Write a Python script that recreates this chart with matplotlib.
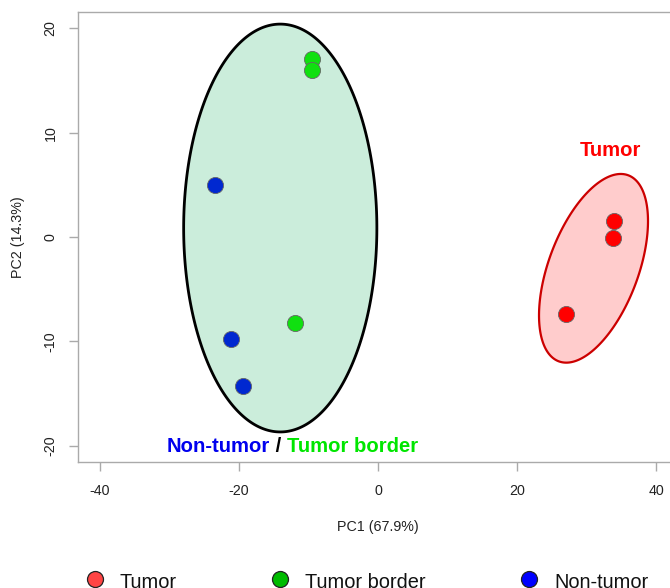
import numpy as np
import matplotlib
matplotlib.use("Agg")
import matplotlib.pyplot as plt
from matplotlib.lines import Line2D

plt.rcParams['font.family'] = ['Liberation Sans', 'DejaVu Sans']
plt.rcParams['axes.unicode_minus'] = False

# ---- data ----
groups = ["Tumor", "Tumor border", "Non-tumor"]
tumor_x = [33.9, 33.85, 27.0]
tumor_y = [1.5, -0.05, -7.4]
border_x = [-9.55, -9.55, -11.95]
border_y = [17.1, 16.0, -8.2]
nontumor_x = [-23.45, -21.15, -19.45]
nontumor_y = [4.95, -9.75, -14.25]

point_colors = ["#FF0000", "#10E010", "#0028D0"]
legend_colors = ["#FF4444", "#00BB00", "#0000FF"]

x_ticks = [-40, -20, 0, 20, 40]
y_ticks = [-20, -10, 0, 10, 20]
x_label = "PC1 (67.9%)"
y_label = "PC2 (14.3%)"

# ellipse shape parameters: center x, center y, x-radius, y-radius, phase (deg)
ell_green = (-14.07, 0.86, 13.9, 19.54, 90.0)
ell_red = (31.0, -3.0, 7.84, 9.04, 60.0)

W, H = 670, 588
fig = plt.figure(figsize=(W / 100, H / 100), dpi=100)
ax = fig.add_axes([77.8 / W, 1 - 462 / H, 600.5 / W, 450 / H])
ax.set_xlim(-43.2, 43.2)
ax.set_ylim(-21.56, 21.56)


def ellipse_pts(p):
    cx, cy, rx, ry, ph = p
    t = np.linspace(0, 2 * np.pi, 400)
    return cx + rx * np.cos(t), cy + ry * np.cos(t + np.deg2rad(ph))


ex, ey = ellipse_pts(ell_green)
ax.fill(ex, ey, facecolor="#CBEDDB", edgecolor="black", linewidth=2.0, zorder=1)
ex, ey = ellipse_pts(ell_red)
ax.fill(ex, ey, facecolor="#FFCCCC", edgecolor="#CC0000", linewidth=1.6, zorder=1)

for xs, ys, c in [(tumor_x, tumor_y, point_colors[0]),
                  (border_x, border_y, point_colors[1]),
                  (nontumor_x, nontumor_y, point_colors[2])]:
    ax.scatter(xs, ys, s=135, color=c, edgecolor="#666666", linewidth=0.6, zorder=3)

# annotations
fs_b = 14.6
ax.text(33.45, 8.33, "Tumor", color="#FF0000", fontsize=fs_b, fontweight="bold",
        ha="center", va="center", zorder=4)
t1 = ax.text(-30.4, -20.03, "Non-tumor", color="#0000EE", fontsize=fs_b,
             fontweight="bold", ha="left", va="center", zorder=4)
t2 = ax.annotate(" / ", xy=(1, 0.5), xycoords=t1, color="black", fontsize=fs_b,
                 fontweight="bold", ha="left", va="center", zorder=4)
t3 = ax.annotate("Tumor border", xy=(1, 0.5), xycoords=t2, color="#00E600",
                 fontsize=fs_b, fontweight="bold", ha="left", va="center", zorder=4)

# axes styling
for s in ["left", "top", "bottom", "right"]:
    ax.spines[s].set_color("#AAAAAA")
    ax.spines[s].set_linewidth(1.0)
ax.set_xticks(x_ticks)
ax.set_yticks(y_ticks)
ax.tick_params(axis="both", length=6.5, width=1.0, color="#AAAAAA",
               labelsize=10.3, labelcolor="#222222")
ax.tick_params(axis="x", pad=9)
ax.tick_params(axis="y", pad=8)
for lab in ax.get_yticklabels():
    lab.set_rotation(90)
    lab.set_va("center")

ax.set_xlabel(x_label, fontsize=10.3, color="#222222")
ax.xaxis.set_label_coords(0.5, (462 - 527) / 450)
ax.xaxis.label.set_va("center")
ax.set_ylabel(y_label, fontsize=10.3, color="#222222")
ax.yaxis.set_label_coords((18 - 77.8) / 600.5, 0.5)
ax.yaxis.label.set_va("center")

# legend at the bottom (partially cut, as in the reference)
leg_marker_x = [95, 280, 529]
for lab, c, mx in zip(groups, legend_colors, leg_marker_x):
    fig.add_artist(Line2D([mx / W], [1 - 579 / H], marker="o", markersize=11.5,
                          markerfacecolor=c, markeredgecolor="#222222",
                          markeredgewidth=0.9, linestyle="none",
                          transform=fig.transFigure))
    fig.text((mx + 25) / W, 1 - 587.5 / H, lab, fontsize=14.4, color="#111111",
             ha="left", va="baseline")

fig.savefig("out.png", dpi=100)
